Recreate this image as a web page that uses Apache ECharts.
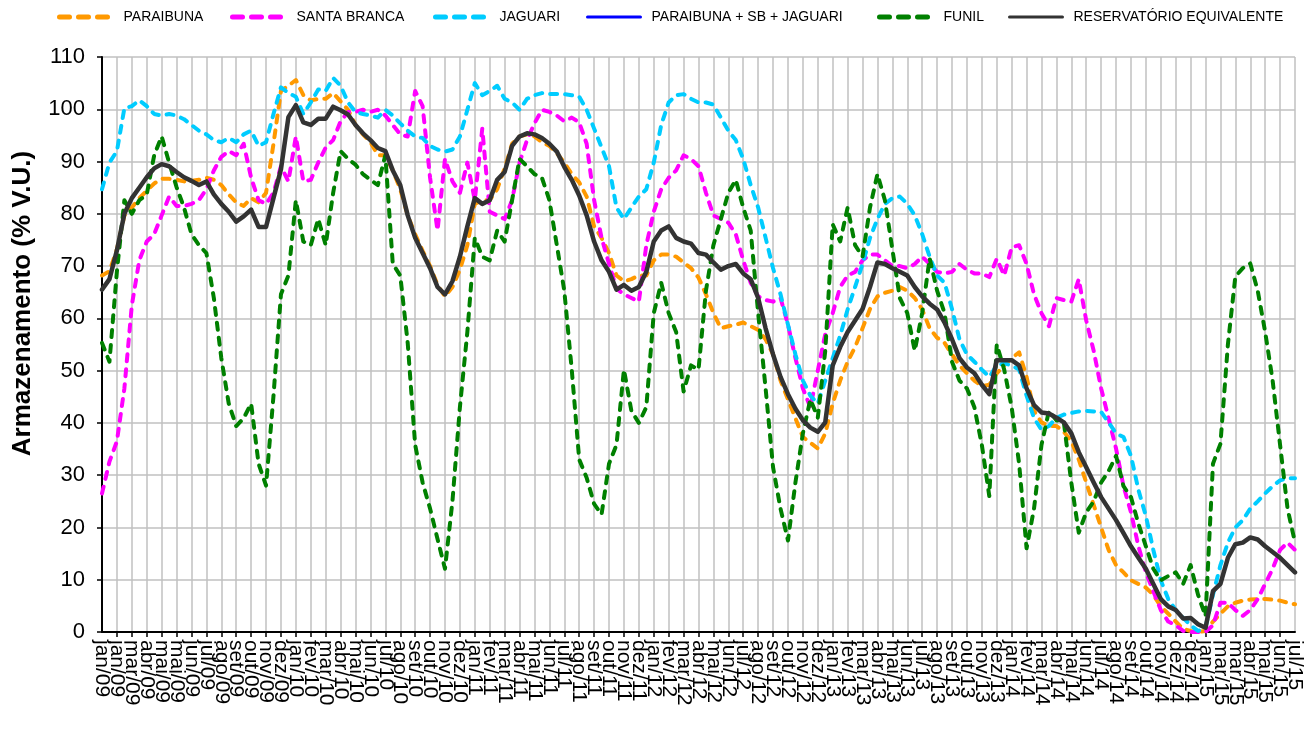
<!DOCTYPE html>
<html>
<head>
<meta charset="utf-8">
<title>Armazenamento</title>
<script src="https://cdn.jsdelivr.net/npm/echarts@6/dist/echarts.min.js"></script>
<style>
  body { margin: 0; background: #fff; }
  #chart { width: 1311px; height: 730px; }
</style>
</head>
<body>
<div id="chart"></div>
<script>
// leitura a cada 15 dias, a partir de 01/jan/2009
const STEP = 15;
const MESES = ["jan", "fev", "mar", "abr", "mai", "jun", "jul", "ago", "set", "out", "nov", "dez"];

const paraibuna = [
  68.2, 69, 73.2, 79.7, 81.2, 83, 84.4, 85.8, 86.7, 86.7, 86.5, 86.2, 86.3, 86.5, 86.9, 86.5, 85.5, 83.7, 82.2, 81.5,
  83, 82.2, 84, 93.4, 103.5, 104.5, 105.6, 102.7, 101.7, 102, 102, 103.1, 101.5, 99.9, 97, 95.2, 93.7, 91.2, 91.2, 88.3,
  84.7, 79.7, 76.1, 72.9, 70, 66.4, 64.2, 66, 69.3, 74, 81.9, 82.6, 82.6, 84.7, 88.7, 93.4, 94.8, 95.2, 94.8, 93.7,
  93, 91.6, 89.8, 87.6, 86, 83.3, 77.6, 75.4, 72.5, 68.2, 67.1, 67.5, 68.2, 68.2, 71.1, 72.2, 72.2, 71.8, 70.7, 69.6,
  67.8, 64.6, 61, 58.1, 58.5, 58.8, 59.2, 58.5, 57.8, 56, 53.1, 48.1, 44.5, 40.9, 37.3, 36.2, 35.1, 38, 43.7, 48.1,
  51.7, 54.5, 58.1, 61.8, 64.2, 64.9, 65.3, 66, 65.3, 63.9, 61.7, 58.1, 56.3, 55.3, 53.1, 51, 49.5, 48.1, 47, 47.3,
  49.5, 51, 52.4, 53.5, 48.8, 42.3, 40.1, 39.4, 39.4, 38.3, 36.5, 33, 28.6, 24.3, 20, 15.7, 12.8, 11.4, 9.9, 9.2,
  8.5, 7.1, 4.9, 3.5, 2, 0.6, 0.2, 0, 0.2, 2, 3.5, 4.9, 5.6, 6, 6.2, 6.3, 6.3, 6.2, 6, 5.6,
  5.3
];

const santaBranca = [
  26.5, 32.6, 36.5, 46.6, 62.5, 71.1, 74.7, 76.1, 79.7, 83.3, 81.5, 81.5, 81.9, 82.6, 84.7, 88.3, 90.9, 92, 91.2, 93.4,
  86.9, 82.6, 81.9, 84, 89.1, 86.2, 94.8, 86.2, 86.5, 89.8, 92.7, 94.1, 97.7, 99.5, 99.5, 99.9, 99.5, 99.9, 98.8, 97,
  95.2, 94.8, 103.5, 100.6, 86.9, 76.8, 90.5, 86.2, 84, 89.8, 82.6, 96.3, 80.4, 79.7, 79, 82.6, 89.8, 94.1, 97.3, 99.9,
  99.5, 98.8, 97.7, 98.4, 97.5, 93.4, 82.6, 75.4, 70.4, 65.7, 64.6, 63.9, 63.2, 74, 80.4, 84.7, 86.9, 88.3, 91.2, 90.5,
  89.1, 84, 79.7, 79, 78.3, 76.1, 71.1, 66.8, 64.2, 63.5, 63.2, 63.9, 58.8, 52.4, 46.6, 43, 50, 57, 61, 66,
  68.2, 68.9, 71.1, 72.2, 72.2, 71.1, 70, 70, 69.6, 70.4, 71.8, 70.4, 68.9, 68.6, 68.9, 70.4, 69.3, 68.6, 68.6, 67.9,
  71.4, 68.2, 73.6, 74, 70.4, 64.6, 61, 58.5, 63.9, 63.5, 63.2, 67.5, 59.6, 53.8, 46.6, 40.9, 35.1, 27.9, 22.9, 16.4,
  11.4, 7.8, 4.2, 2, 1.3, 0.2, 0, 0, 0, 1.3, 5.6, 5.6, 4.2, 3.1, 4.2, 6.3, 9.2, 12.1, 15.7, 17.1,
  15.7
];

const jaguari = [
  84.7, 89.8, 92, 100.2, 100.6, 101.7, 100.6, 99.1, 98.8, 99.1, 98.8, 98.1, 97, 95.9, 95.2, 94.1, 93.7, 94.5, 93.7, 95.2,
  95.9, 93, 93.7, 99.1, 104.2, 103.1, 102.4, 99.1, 101.3, 103.8, 103.5, 106, 104.5, 101.3, 99.5, 99.1, 98.8, 98.4, 99.9, 98.8,
  97.3, 95.9, 94.8, 94.5, 93, 92.3, 91.9, 92.3, 94.8, 99.9, 105, 102.7, 103.5, 104.5, 102, 101.3, 99.9, 102, 102.7, 103.1,
  102.9, 102.9, 102.9, 102.7, 102.4, 99.9, 96.3, 92.7, 89.1, 81.2, 79, 81.2, 83.3, 84.7, 89.8, 97, 101.3, 102.7, 102.9, 102,
  101.3, 101.3, 100.9, 98.4, 95.9, 94.1, 90.5, 85.5, 81.2, 75.4, 69.6, 64.6, 58.8, 53.1, 48.1, 45.2, 43.7, 48.1, 52.4, 56.7,
  61.7, 66, 70.4, 75.4, 79, 81.9, 83, 83.3, 81.9, 79.7, 76.1, 71.8, 68.2, 66.8, 61.8, 56, 53.1, 51.7, 50.2, 48.8,
  51, 51.4, 51, 50.2, 45.2, 40.9, 38.7, 39.4, 41, 41.6, 41.9, 42.2, 42.3, 42.2, 42.1, 40.1, 38, 37.3, 33.7, 27.2,
  22.2, 15.7, 9.9, 6.3, 4.2, 2.7, 1.3, 0.2, 0.9, 7.1, 12.8, 17.1, 20, 21.4, 23.6, 25, 26.5, 27.9, 29, 29.4,
  29.4
];

// a soma PARAIBUNA + SB + JAGUARI aparece só na legenda
const paraibunaSbJaguari = [];

const funil = [
  55.3, 51.7, 69, 82.6, 80, 82.6, 83.7, 91.2, 94.8, 89.8, 85.1, 81.2, 76.1, 74, 72.5, 63.9, 52.4, 43.7, 39.4, 40.9,
  43.7, 32.2, 28, 45.2, 64.6, 68.2, 82.6, 74.7, 74, 79, 74, 84, 92, 90.5, 89.4, 87.6, 86.5, 85.5, 91.2, 70.4,
  68.2, 55.3, 35.8, 28.6, 23.6, 17.8, 12.1, 25, 43, 57.4, 75.4, 71.8, 71.1, 76.8, 74.7, 82.6, 90.5, 89.1, 87.6, 86.9,
  82.6, 74, 65.3, 50.2, 33, 29.5, 24.5, 22.5, 32.2, 35.8, 50.2, 42.3, 40, 43, 61, 66.8, 61, 57.4, 46, 51,
  50.2, 65.3, 74, 79, 84, 86.5, 81.2, 76.8, 61, 46.6, 31.5, 23.6, 17.5, 28.6, 38, 44.5, 41, 53.8, 78, 74.7,
  81.2, 74, 71.8, 81.2, 87.6, 82.6, 73.2, 63.9, 61, 53.8, 61, 71.5, 65.3, 61, 51.7, 48.1, 46.6, 43, 35.8, 26,
  55, 50.2, 43, 32.2, 16, 23.6, 35.8, 42.3, 40.5, 40.1, 28.6, 19, 22.9, 25, 28.6, 30.8, 33.7, 27.9, 25.8, 20.7,
  16.4, 12.1, 9.9, 10.7, 11.4, 9.2, 12.8, 7.1, 3, 32.2, 36, 55, 68, 69.6, 70.5, 65.3, 57.4, 48.1, 35.8, 23.6,
  17.1
];

const equivalente = [
  65.5, 67.5, 73, 80, 83, 85, 87, 88.7, 89.5, 89.1, 88, 87, 86.3, 85.5, 86.2, 83.7, 81.9, 80.4, 78.5, 79.5,
  80.8, 77.5, 77.5, 83, 88.5, 98.5, 100.8, 97.5, 97, 98.2, 98.2, 100.5, 99.8, 99, 97, 95.4, 94.1, 92.6, 92, 88.3,
  85.5, 79.7, 75.4, 72.5, 69.6, 66, 64.6, 67.1, 71.8, 77.6, 83, 81.9, 82.6, 86.5, 88, 93, 94.8, 95.4, 95.2, 94.5,
  93.4, 91.9, 89, 86.5, 83.5, 79.7, 74.7, 71.1, 68.9, 65.5, 66.4, 65.3, 66, 68.9, 74.7, 76.8, 77.6, 75.4, 74.7, 74.3,
  72.5, 72.2, 70.7, 69.3, 70, 70.4, 68.6, 67.5, 63.9, 58.1, 53.1, 48.8, 45.5, 42.7, 40.5, 39.1, 38.3, 40.1, 51, 54.5,
  57.4, 59.6, 61.8, 66, 70.7, 70.4, 69.6, 68.9, 68.2, 66, 64.2, 62.8, 61.7, 59.2, 56, 52.4, 50.6, 49.5, 47.3, 45.5,
  52, 52, 52, 51, 46.6, 43.4, 42, 41.8, 41, 40.1, 38, 34.4, 31.5, 28.6, 25.8, 23.6, 21.4, 18.9, 16.4, 14.2,
  12.1, 9.2, 6.3, 4.9, 4.2, 2.6, 2.7, 1.5, 0.8, 7.8, 9.2, 14.2, 16.8, 17.1, 18.1, 17.7, 16.4, 15.3, 14.2, 12.8,
  11.4
];

const FONT = '"Liberation Sans", Arial, sans-serif';
const toXY = arr => arr.map((v, i) => [i * STEP, v]);

const rotuloData = v => {
  const d = new Date(2009, 0, 1 + v);
  return MESES[d.getMonth()] + "/" + String(d.getFullYear()).slice(2);
};
const estiloRotulo = {
  rotate: -90,
  margin: 8,
  fontFamily: FONT,
  fontSize: 21,
  color: "#000",
  formatter: rotuloData
};

function linha(nome, cor, dados, tracejada) {
  return {
    name: nome,
    type: "line",
    data: toXY(dados),
    symbol: "none",
    smooth: false,
    animation: false,
    lineStyle: {
      color: cor,
      width: tracejada ? 4 : 4.5,
      type: tracejada ? [7, 8] : "solid",
      cap: "round",
      join: "round"
    },
    itemStyle: { color: cor }
  };
}

function legenda(nome, left, tracejada) {
  return {
    data: [nome],
    left: left,
    top: 5,
    itemWidth: 53,
    itemHeight: 14,
    textStyle: { fontFamily: FONT, fontSize: 14, color: "#000", padding: [0, 0, 0, 6] },
    itemStyle: { opacity: 0 },
    lineStyle: {
      width: tracejada ? 5 : 3,
      type: tracejada ? [10, 9] : "solid",
      cap: "round"
    }
  };
}

const chart = echarts.init(document.getElementById("chart"));
chart.setOption({
  backgroundColor: "#fff",
  animation: false,
  legend: [
    legenda("PARAIBUNA", 52, true),
    legenda("SANTA BRANCA", 225, true),
    legenda("JAGUARI", 428, true),
    legenda("PARAIBUNA + SB + JAGUARI", 581, false),
    legenda("FUNIL", 872, true),
    legenda("RESERVATÓRIO EQUIVALENTE", 1003, false)
  ],
  grid: { left: 102, right: 16, top: 57, bottom: 98 },
  xAxis: [
    {
      type: "value",
      min: 0,
      max: 2400,
      interval: 30,
      axisLine: { lineStyle: { color: "#000", width: 2 } },
      axisTick: { show: true, length: 5, lineStyle: { color: "#000", width: 1.5 } },
      splitLine: { show: true, lineStyle: { color: "#c0c0c0", width: 1.5 } },
      axisLabel: Object.assign({ showMinLabel: false, showMaxLabel: false }, estiloRotulo)
    },
    {
      // só os rótulos das pontas (jan/09 e jul/15)
      type: "value",
      position: "bottom",
      min: 0,
      max: 2400,
      interval: 2400,
      axisLine: { show: false },
      axisTick: { show: false },
      splitLine: { show: false },
      axisLabel: Object.assign({ showMinLabel: true, showMaxLabel: true }, estiloRotulo)
    }
  ],
  yAxis: {
    type: "value",
    min: 0,
    max: 110,
    interval: 10,
    name: "Armazenamento (% V.U.)",
    nameLocation: "middle",
    nameGap: 66,
    nameTextStyle: {
      fontFamily: FONT, fontSize: 26, fontWeight: "bold", color: "#000",
      padding: [0, 0, 0, 82]
    },
    axisLine: { show: true, lineStyle: { color: "#000", width: 2 } },
    axisTick: { show: true, length: 5, lineStyle: { color: "#000", width: 1.5 } },
    splitLine: { show: true, lineStyle: { color: "#c0c0c0", width: 1.5 } },
    axisLabel: { fontFamily: FONT, fontSize: 22, color: "#000", margin: 17 }
  },
  series: [
    linha("PARAIBUNA", "#FF9900", paraibuna, true),
    linha("SANTA BRANCA", "#FF00FF", santaBranca, true),
    linha("JAGUARI", "#00CCFF", jaguari, true),
    linha("PARAIBUNA + SB + JAGUARI", "#0000FF", paraibunaSbJaguari, false),
    linha("FUNIL", "#008000", funil, true),
    linha("RESERVATÓRIO EQUIVALENTE", "#333333", equivalente, false)
  ]
});
</script>
</body>
</html>
